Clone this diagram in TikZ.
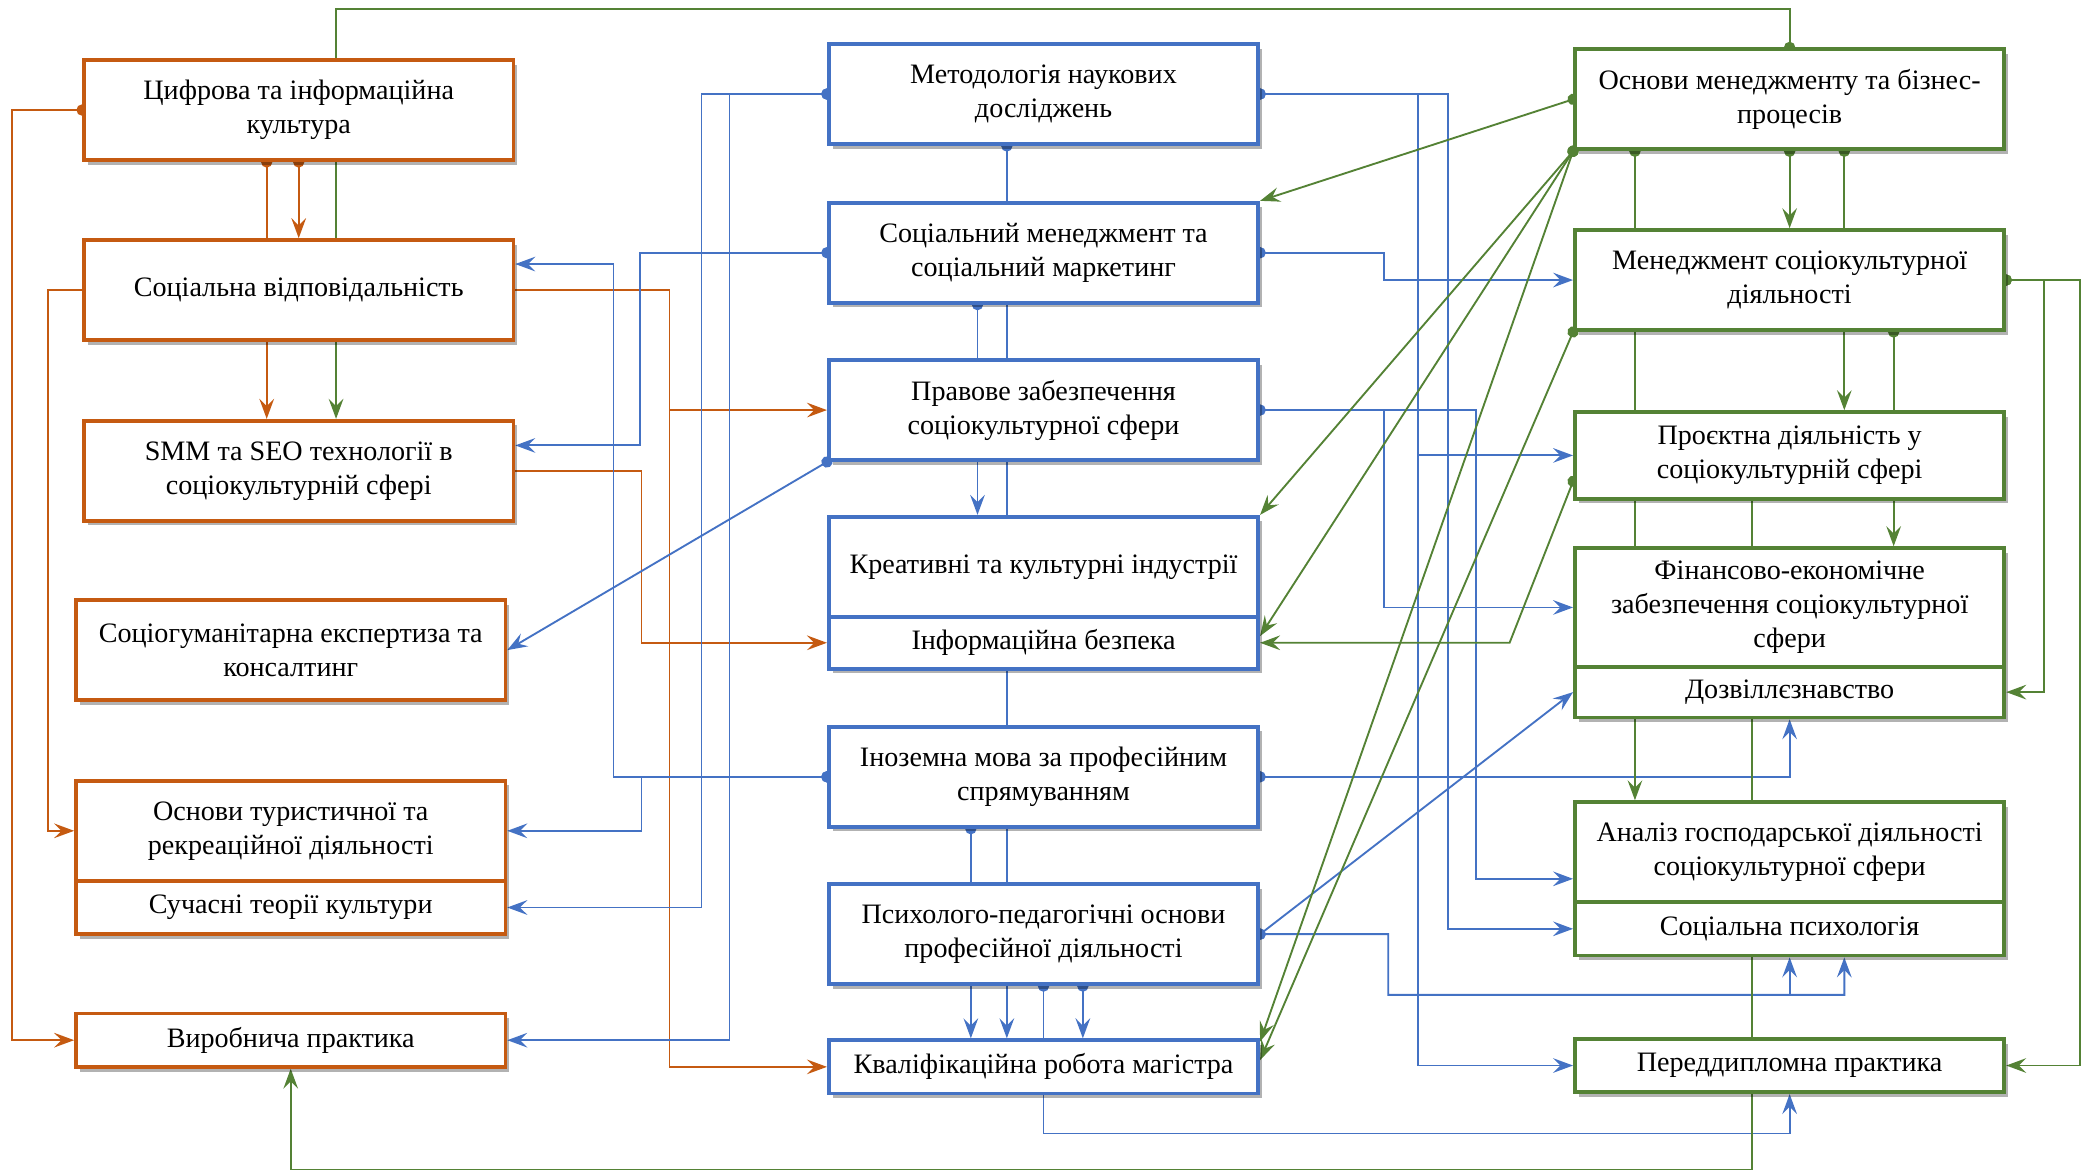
\documentclass[tikz,border=0pt]{standalone}
\usepackage{fontspec}
\setmainfont{Liberation Serif}
\usepackage{tikz}
\usetikzlibrary{positioning, arrows.meta, shadows}

\definecolor{orng}{RGB}{197,90,17}
\definecolor{blu}{RGB}{68,114,196}
\definecolor{grn}{RGB}{84,130,53}

\pgfdeclarelayer{bg}
\pgfsetlayers{bg,main}

\tikzset{
	subj/.style={draw, line width=1.6pt, fill=white, minimum width=6.44cm, minimum height=1.5cm,
		align=center, inner sep=2pt, font=\fontsize{12pt}{14.5pt}\selectfont,
		drop shadow={shadow xshift=0.06cm, shadow yshift=-0.07cm, fill=black, draw=none, opacity=0.3}},
	osubj/.style={subj, draw=orng},
	bsubj/.style={subj, draw=blu},
	gsubj/.style={subj, draw=grn},
	olink/.style={draw=orng, line width=0.8pt, shorten <=-0.085cm},
	blink/.style={draw=blu, line width=0.8pt, shorten <=-0.085cm},
	glink/.style={draw=grn, line width=0.8pt, shorten <=-0.085cm},
	Dt/.tip={Circle[length=0.17cm]},
	>={Stealth[length=0.3cm, width=0.22cm, inset=0.11cm]}
}

\begin{document}
\begin{tikzpicture}
			\useasboundingbox (0,0) rectangle (31.36,-17.6);
			
			%Blocks
			\node (cif) at (4.48,-1.65) [osubj] {Цифрова та інформаційна\\культура};
			\node (soc) at (4.48,-4.35) [osubj] {Соціальна відповідальність};
			\node (smm) at (4.48,-7.06) [osubj] {SMM та SEO технології в\\соціокультурній сфері};
			\node (exp) at (4.36,-9.75) [osubj] {Соціогуманітарна експертиза та\\консалтинг};
			\node (tour) at (4.36,-12.46) [osubj] {Основи туристичної та\\рекреаційної діяльності};
			\node (theor) [osubj, below=-1.6pt of tour, minimum height=0.8cm] {Сучасні теорії культури};
			\node (prod) at (4.36,-15.6) [osubj, minimum height=0.8cm] {Виробнича практика};
			
			\node (meth) at (15.65,-1.41) [bsubj] {Методологія наукових\\досліджень};
			\node (smgmt) at (15.65,-3.79) [bsubj] {Соціальний менеджмент та\\соціальний маркетинг};
			\node (law) at (15.65,-6.15) [bsubj] {Правове забезпечення\\соціокультурної сфери};
			\node (creat) at (15.65,-8.5) [bsubj] {Креативні та культурні індустрії};
			\node (infsec) [bsubj, below=-1.6pt of creat, minimum height=0.78cm] {Інформаційна безпека};
			\node (lang) at (15.65,-11.65) [bsubj] {Іноземна мова за професійним\\спрямуванням};
			\node (psy) at (15.65,-14.01) [bsubj] {Психолого-педагогічні основи\\професійної діяльності};
			\node (qual) at (15.65,-16.0) [bsubj, minimum height=0.8cm] {Кваліфікаційна робота магістра};
			
			\node (bman) at (26.84,-1.49) [gsubj] {Основи менеджменту та бізнес-\\процесів};
			\node (scman) at (26.84,-4.2) [gsubj] {Менеджмент соціокультурної\\діяльності};
			\node (proj) at (26.84,-6.83) [gsubj, minimum height=1.3cm] {Проєктна діяльність у\\соціокультурній сфері};
			\node (fin) at (26.84,-9.11) [gsubj, minimum height=1.78cm] {Фінансово-економічне\\забезпечення соціокультурної\\сфери};
			\node (leis) [gsubj, below=-1.6pt of fin, minimum height=0.76cm] {Дозвіллєзнавство};
			\node (anal) at (26.84,-12.78) [gsubj] {Аналіз господарської діяльності\\соціокультурної сфери};
			\node (socpsy) [gsubj, below=-1.6pt of anal, minimum height=0.8cm] {Соціальна психологія};
			\node (pred) at (26.84,-15.98) [gsubj, minimum height=0.8cm] {Переддипломна практика};
			
			\begin{pgfonlayer}{bg}
			%Links orange
			\draw[olink, Dt-] ([xshift=-0.48cm]cif.south) -- ([xshift=-0.48cm]soc.north);
			\draw[olink, Dt->] (cif.south) -- (soc.north);
			\draw[olink, ->] ([xshift=-0.48cm]soc.south) -- ([xshift=-0.48cm]smm.north);
			\draw[olink, Dt->] (cif.west) -- (cif.west -| 0.18,0) |- (prod.west);
			\draw[olink, ->] (soc.west) -- (soc.west -| 0.72,0) |- (tour.west);
			\draw[olink, ->] (soc.east) -- (soc.east -| 10.04,0) |- (qual.west);
			\draw[olink, ->, shorten <=0pt] (law.west -| 10.04,0) -- (law.west);
			\draw[olink, ->] (smm.east) -- (smm.east -| 9.62,0) |- (infsec.west);
			
			%Links blue
			\draw[blink, Dt->] ([xshift=-0.55cm]meth.south) -- ([xshift=-0.55cm]qual.north);
			\draw[blink, Dt->] ([xshift=-0.99cm]smgmt.south) -- ([xshift=-0.99cm]creat.north);
			\draw[blink, Dt->] ([xshift=-1.09cm]lang.south) -- ([xshift=-1.09cm]qual.north);
			\draw[blink, Dt->] ([xshift=0.59cm]psy.south) -- ([xshift=0.59cm]qual.north);
			\draw[blink, Dt->] (psy.south) -- (psy.south |- 0,-17) -| (pred.south);
			\draw[blink, Dt->] (meth.west) -- (meth.west -| 10.52,0) |- (theor.east);
			\draw[blink, Dt->] (meth.west) -- (meth.west -| 10.94,0) |- (prod.east);
			\draw[blink, Dt->] (smgmt.west) -- (smgmt.west -| 9.6,0) |- ([yshift=0.38cm]smm.east);
			\draw[blink, Dt->] (lang.west) -- (lang.west -| 9.2,0) |- ([yshift=0.39cm]soc.east);
			\draw[blink, Dt->] (lang.west) -- (lang.west -| 9.62,0) |- (tour.east);
			\draw[blink, Dt->] (law.south west) -- (exp.east);
			\draw[blink, Dt->] (meth.east) -- (meth.east -| 21.72,0) |- (socpsy.west);
			\draw[blink, Dt->] (meth.east) -- (meth.east -| 21.26,0) |- (pred.west);
			\draw[blink, ->, shorten <=0pt] (proj.west -| 21.26,0) -- (proj.west);
			\draw[blink, Dt->] (smgmt.east) -- (smgmt.east -| 20.76,0) |- (scman.west);
			\draw[blink, Dt->] (law.east) -- (law.east -| 22.14,0) |- ([yshift=-0.4cm]anal.west);
			\draw[blink, ->, shorten <=0pt] (law.east -| 20.76,0) |- (fin.west);
			\draw[blink, Dt->] (lang.east) -| (leis.south);
			\draw[blink, Dt->] (psy.east) -- (leis.west);
			\draw[blink, Dt->] (psy.east) -- (psy.east -| 20.82,0) |- (socpsy.south |- 0,-14.92)
				-- ++(0.82,0) -- ([xshift=0.82cm]socpsy.south);
			\draw[blink, ->, shorten <=0pt] (socpsy.south |- 0,-14.92) -- (socpsy.south);
			
			%Links green
			\draw[glink, Dt->] (bman.north) -- (bman.north |- 0,-0.14) -| ([xshift=0.56cm]smm.north);
			\draw[glink, Dt->] (bman.west) -- (smgmt.north east);
			\draw[glink, Dt->] (bman.south west) -- (creat.north east);
			\draw[glink, Dt->] (bman.south west) -- ([yshift=0.1cm]infsec.east);
			\draw[glink, Dt->] (bman.south west) -- ([yshift=-0.05cm]qual.north east);
			\draw[glink, Dt->] (scman.south west) -- ([yshift=0.1cm]qual.east);
			\draw[glink, Dt->] (bman.south) -- (scman.north);
			\draw[glink, Dt->] ([xshift=-2.32cm]bman.south) -- ([xshift=-2.32cm]anal.north);
			\draw[glink, Dt->] ([xshift=0.82cm]bman.south) -- ([xshift=0.82cm]proj.north);
			\draw[glink, Dt->] ([xshift=1.56cm]scman.south) -- ([xshift=1.56cm]fin.north);
			\draw[glink, ->] (proj.south -| 26.28,0) -- (26.28,-17.54) -| (prod.south);
			\draw[glink, Dt->] (scman.east) -- (scman.east -| 30.66,0) |- (leis.east);
			\draw[glink, Dt->] (scman.east) -- (scman.east -| 31.2,0) |- (pred.east);
			\draw[glink, Dt->] ([yshift=-0.39cm]proj.west) -- (infsec.east -| 22.64,0) -- (infsec.east);
			\end{pgfonlayer}
			
\end{tikzpicture}
\end{document}
